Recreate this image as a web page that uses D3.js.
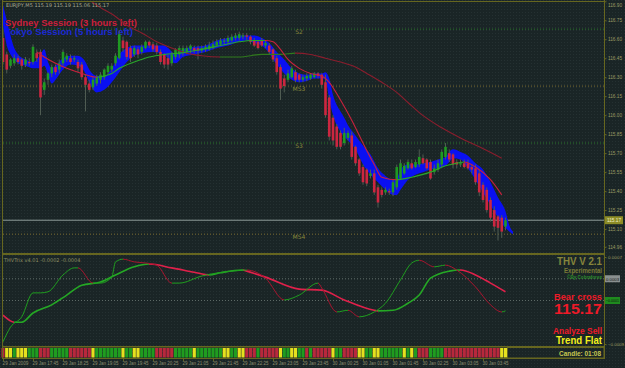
<!DOCTYPE html>
<html>
<head>
<meta charset="utf-8">
<title>EURJPY M5 - THV</title>
<style>
  body { margin: 0; background: #1a2526; }
  svg { display: block; }
</style>
</head>
<body>
<div id="chart"></div>
<script src="https://cdn.jsdelivr.net/npm/d3@7/dist/d3.min.js"></script>
<script>
// ---- data (EURJPY M5, 29-30 Jan 2009) ----
var barOpen = [
  116.61,116.48,116.39,116.41,116.45,116.44,116.40,116.42,116.42,116.49,
  116.50,116.20,116.28,116.33,116.38,116.36,116.41,116.44,116.45,116.44,
  116.42,116.40,116.30,116.25,116.22,116.25,116.28,116.30,116.34,116.36,
  116.41,116.45,116.59,116.58,116.53,116.48,116.52,116.50,116.53,116.58,
  116.56,116.55,116.50,116.48,116.45,116.41,116.46,116.48,116.49,116.50,
  116.52,116.53,116.53,116.51,116.52,116.52,116.53,116.55,116.56,116.58,
  116.58,116.59,116.61,116.61,116.62,116.63,116.62,116.59,116.58,116.59,
  116.55,116.55,116.52,116.45,116.38,116.29,116.28,116.30,116.34,116.32,
  116.28,116.29,116.29,116.30,116.33,116.32,116.26,116.14,115.98,115.91,
  115.86,115.78,115.82,115.84,115.75,115.65,115.59,115.57,115.52,115.54,
  115.43,115.41,115.39,115.40,115.39,115.43,115.50,115.54,115.58,115.62,
  115.59,115.61,115.66,115.65,115.63,115.55,115.57,115.61,115.67,115.70,
  115.69,115.63,115.61,115.62,115.62,115.59,115.58,115.54,115.45,115.41,
  115.33,115.25,115.20,115.19,115.12
];
var barClose = [
  116.42,116.36,116.44,116.45,116.42,116.39,116.44,116.41,116.54,116.45,
  116.14,116.26,116.33,116.38,116.34,116.41,116.50,116.47,116.42,116.45,
  116.37,116.30,116.24,116.20,116.28,116.30,116.32,116.36,116.39,116.39,
  116.47,116.64,116.53,116.46,116.45,116.53,116.48,116.54,116.58,116.55,
  116.52,116.50,116.42,116.40,116.40,116.48,116.52,116.53,116.53,116.53,
  116.55,116.51,116.51,116.53,116.54,116.55,116.56,116.58,116.59,116.59,
  116.61,116.62,116.63,116.64,116.63,116.62,116.58,116.55,116.53,116.55,
  116.57,116.50,116.44,116.34,116.21,116.23,116.33,116.37,116.28,116.28,
  116.30,116.31,116.32,116.33,116.31,116.24,116.00,115.83,115.80,115.75,
  115.75,115.86,115.86,115.67,115.62,115.54,115.47,115.46,115.54,115.39,
  115.31,115.37,115.41,115.39,115.47,115.59,115.62,115.60,115.63,115.58,
  115.63,115.67,115.62,115.58,115.50,115.58,115.62,115.71,115.75,115.65,
  115.61,115.61,115.62,115.59,115.58,115.57,115.47,115.39,115.33,115.25,
  115.19,115.12,115.11,115.08,115.17
];
var barHigh = [
  116.67,116.50,116.45,116.48,116.47,116.45,116.46,116.45,116.56,116.52,
  116.52,116.29,116.34,116.40,116.40,116.44,116.52,116.49,116.48,116.47,
  116.44,116.42,116.32,116.28,116.30,116.32,116.34,116.37,116.41,116.41,
  116.49,116.67,116.62,116.59,116.55,116.55,116.54,116.56,116.59,116.59,
  116.58,116.57,116.52,116.49,116.48,116.50,116.53,116.55,116.55,116.55,
  116.56,116.55,116.55,116.55,116.56,116.58,116.59,116.60,116.61,116.61,
  116.63,116.64,116.65,116.66,116.65,116.65,116.63,116.61,116.59,116.61,
  116.59,116.57,116.53,116.47,116.40,116.32,116.36,116.39,116.36,116.33,
  116.32,116.33,116.33,116.34,116.34,116.33,116.32,116.16,116.00,115.93,
  115.88,115.90,115.88,115.87,115.76,115.66,115.61,115.58,115.57,115.57,
  115.45,115.43,115.43,115.42,115.49,115.61,115.65,115.62,115.65,115.65,
  115.65,115.73,115.69,115.66,115.65,115.61,115.65,115.73,115.78,115.73,
  115.70,115.65,115.65,115.65,115.65,115.61,115.61,115.57,115.47,115.43,
  115.35,115.28,115.21,115.21,115.19
];
var barLow = [
  116.40,116.33,116.37,116.39,116.40,116.36,116.38,116.39,116.40,116.42,
  116.00,116.16,116.24,116.30,116.32,116.33,116.39,116.42,116.40,116.42,
  116.34,116.28,116.03,116.18,116.20,116.23,116.25,116.28,116.32,116.34,
  116.39,116.44,116.50,116.44,116.42,116.46,116.45,116.48,116.52,116.53,
  116.50,116.48,116.40,116.37,116.36,116.39,116.44,116.45,116.47,116.48,
  116.49,116.49,116.44,116.49,116.50,116.51,116.52,116.54,116.55,116.56,
  116.56,116.58,116.59,116.59,116.60,116.59,116.56,116.54,116.52,116.54,
  116.53,116.48,116.42,116.32,116.12,116.18,116.26,116.29,116.26,116.26,
  116.26,116.27,116.28,116.29,116.29,116.21,115.98,115.80,115.76,115.73,
  115.73,115.76,115.80,115.65,115.60,115.52,115.45,115.44,115.50,115.37,
  115.27,115.35,115.37,115.37,115.36,115.41,115.49,115.53,115.57,115.57,
  115.58,115.59,115.61,115.57,115.49,115.53,115.55,115.59,115.65,115.63,
  115.58,115.58,115.59,115.58,115.57,115.54,115.45,115.36,115.31,115.23,
  115.16,115.08,115.01,115.03,115.09
];

// blue ribbon: bar index, upper and lower edge
var ribbonBar = [0,1,2,3,4,6,8,10,11,12,13,14,16,18,20,22,23,25,27,29,31,33,35,37,40,43,44,46,48,51,54,57,60,63,65,67,69,71,73,75,77,79,81,83,85,86,87,88,89,90,91,92,94,96,98,100,102,104,105,106,108,110,112,114,116,118,119,120,122,124,126,128,130,132,134,135,136];
var ribbonTop = [116.87,116.75,116.63,116.53,116.48,116.44,116.42,116.48,116.52,116.42,116.37,116.39,116.45,116.47,116.47,116.42,116.36,116.31,116.31,116.37,116.48,116.53,116.55,116.55,116.55,116.55,116.53,116.48,116.52,116.54,116.55,116.59,116.61,116.63,116.63,116.63,116.61,116.57,116.50,116.44,116.37,116.33,116.32,116.33,116.33,116.34,116.29,116.16,116.08,116.03,115.98,115.92,115.84,115.76,115.69,115.58,115.52,115.49,115.50,115.57,115.61,115.61,115.62,115.63,115.65,115.67,115.71,115.73,115.71,115.68,115.62,115.57,115.47,115.35,115.24,115.13,115.08];
var ribbonBottom = [116.71,116.55,116.48,116.44,116.41,116.39,116.37,116.37,116.39,116.32,116.25,116.28,116.36,116.40,116.39,116.33,116.26,116.18,116.20,116.26,116.34,116.42,116.47,116.49,116.50,116.48,116.45,116.41,116.46,116.48,116.50,116.53,116.55,116.58,116.59,116.57,116.55,116.49,116.40,116.33,116.28,116.26,116.27,116.29,116.29,116.28,116.12,116.00,115.92,115.87,115.83,115.80,115.73,115.61,115.53,115.47,115.41,115.37,115.37,115.41,115.49,115.53,115.55,115.57,115.58,115.60,115.63,115.66,115.65,115.58,115.49,115.39,115.29,115.19,115.11,115.08,115.06];

// moving averages (bar index, value)
var slowMaBar = [23,26,30,33,37,41,45,49,53,58,63,69,74,78,82,86,90,94,97,101,105,108,111,117,122,127,133];
var slowMaVal = [116.91,116.85,116.78,116.71,116.65,116.58,116.53,116.49,116.47,116.46,116.46,116.48,116.48,116.49,116.48,116.45,116.42,116.38,116.33,116.26,116.18,116.10,116.02,115.90,115.82,115.75,115.66];
var midMaBar = [9,11,14,17,21,25,27,29,31,35,39,43,47,53,58,63,67,70,72,74,76,79,82,85,87,90,93,96,99,101,105,109,114,118,121,123,126,130,133];
var midMaVal = [116.50,116.46,116.41,116.37,116.33,116.30,116.31,116.33,116.37,116.42,116.46,116.48,116.49,116.52,116.55,116.58,116.59,116.59,116.58,116.52,116.44,116.37,116.33,116.31,116.26,116.12,115.96,115.78,115.61,115.51,115.49,115.51,115.55,115.60,115.62,115.63,115.59,115.49,115.37];

// pivot levels
var levelNames = ["S2", "MS3", "S3", "MS4"];
var levelPrices = [116.68, 116.23, 115.78, 115.06];

var priceTicks = [116.90,116.75,116.60,116.45,116.30,116.15,116.00,115.85,115.70,115.55,115.40,115.25,115.10,114.96];
var lastPrice = 115.17;

// THVTrix oscillator (bar index, value)
var fastBar = [0,2,5,8,10,12,16,19,20,24,26,29,30,32,35,38,41,45,47,53,61,65,70,75,79,84,85,89,92,95,99,102,106,109,111,115,118,121,126,130,133,134];
var fastVal = [-0.00086,-0.00059,-0.00040,0.00004,0.00004,0.00006,0.00037,0.00050,0.00050,0.00022,0.00022,0.00033,0.00061,0.00066,0.00061,0.00059,0.00055,0.00022,0.00022,0.00035,0.00044,0.00046,0.00031,-0.00009,0.00000,0.00022,0.00013,-0.00031,-0.00028,-0.00040,-0.00031,-0.00015,0.00028,0.00059,0.00064,0.00052,0.00055,0.00046,0.00015,-0.00018,-0.00031,-0.00029];
var slowBar = [0,3,5,8,13,17,21,26,30,35,39,45,51,55,58,64,65,70,79,85,91,99,100,104,108,111,114,119,122,126,130,134];
var slowVal = [-0.00037,-0.00050,-0.00050,-0.00033,-0.00018,0.00000,0.00018,0.00024,0.00037,0.00052,0.00057,0.00050,0.00042,0.00037,0.00041,0.00046,0.00044,0.00033,0.00011,0.00009,-0.00009,-0.00028,-0.00029,-0.00028,-0.00015,0.00000,0.00031,0.00044,0.00046,0.00037,0.00022,0.00006];
var oscTicks = [0.0007, -0.0009];
var oscLevels = [0.0003, -0.0001];

// trend strip: g = up, r = down, y = flat
var trendStrip = ("r"+"yy"+"g"+"yyy"+"ggg"+"rrr"+"ggggg"+"rrrrrr"+"y"+"ggggggg"+"y"+"gg"+"yy"+"gggg"+"rrrrr"+"ggggg"+"y"+
  "ggggggg"+"yy"+"gg"+"yy"+"rrr"+"g"+"rrrrr"+"y"+"gg"+"yy"+"gg"+"r"+"g"+"rrrrr"+"y"+"gg"+"rrrr"+"yy"+"gg"+"yy"+
  "gggggg"+"y"+"g"+"y"+"g"+"rrr"+"gggg"+"rrrrrrrrrrrrrrr"+"yy").split("");

var timeBars = [0,8,16,24,32,40,48,56,64,72,80,88,96,104,112,120,128];
var timeLabels = ["29 Jan 2009","29 Jan 17:45","29 Jan 18:25","29 Jan 19:05","29 Jan 19:45","29 Jan 20:25",
  "29 Jan 21:05","29 Jan 21:45","29 Jan 22:25","29 Jan 23:05","29 Jan 23:45","30 Jan 00:25","30 Jan 01:05",
  "30 Jan 01:45","30 Jan 02:25","30 Jan 03:05","30 Jan 03:45"];

// ---- drawing ----
var W = 625, H = 368;
var olive = "#66661f", axisText = "#9a9a62";
var svg = d3.select("#chart").append("svg").attr("width", W).attr("height", H);
var defs = svg.append("defs");

var pat = defs.append("pattern").attr("id", "dots").attr("width", 3).attr("height", 3)
  .attr("patternUnits", "userSpaceOnUse");
pat.append("rect").attr("width", 3).attr("height", 3).attr("fill", "#1a2526");
pat.append("rect").attr("width", 1).attr("height", 1).attr("fill", "#253132");
svg.append("rect").attr("width", W).attr("height", H).attr("fill", "url(#dots)");

var x = d3.scaleLinear().domain([0, 134]).range([3, 505.5]);
var y = d3.scaleLinear().domain([114.93, 116.91]).range([250.6, 0]);
var yo = d3.scaleLinear().domain([-0.0009, 0.0007]).range([344, 257]);

defs.append("clipPath").attr("id", "mainClip").append("rect")
  .attr("x", 3).attr("y", 1.5).attr("width", 601).attr("height", 251);
defs.append("clipPath").attr("id", "oscClip").append("rect")
  .attr("x", 3).attr("y", 255).attr("width", 601).attr("height", 91);

function slopeGradient(id, bars, vals, up, down) {
  var x0 = x(bars[0]), span = x(bars[bars.length - 1]) - x0;
  var g = defs.append("linearGradient").attr("id", id).attr("gradientUnits", "userSpaceOnUse")
    .attr("x1", x0).attr("x2", x0 + span).attr("y1", 0).attr("y2", 0);
  for (var k = 0; k < bars.length - 1; k++) {
    var c = vals[k + 1] >= vals[k] ? up : down;
    g.append("stop").attr("offset", (x(bars[k]) - x0) / span).attr("stop-color", c);
    g.append("stop").attr("offset", (x(bars[k + 1]) - x0) / span).attr("stop-color", c);
  }
}

var main = svg.append("g").attr("clip-path", "url(#mainClip)");

// pivot levels
var levelStyle = { "S2": "#2c7a2c", "MS3": "#7a6a30", "S3": "#2c7a2c", "MS4": "#7a6a30" };
levelPrices.forEach(function(p, i) {
  main.append("line").attr("x1", 3).attr("x2", 604).attr("y1", y(p)).attr("y2", y(p))
    .attr("stroke", levelStyle[levelNames[i]]).attr("stroke-width", 1).attr("stroke-dasharray", "1,2");
  main.append("text").attr("x", 299).attr("y", y(p) + 5).attr("text-anchor", "middle")
    .attr("font-family", "DejaVu Sans").attr("font-size", 6).attr("fill", "#86863a").text(levelNames[i]);
});

// current price line
main.append("line").attr("x1", 3).attr("x2", 604).attr("y1", y(lastPrice)).attr("y2", y(lastPrice))
  .attr("stroke", "#8d9a98").attr("stroke-width", 1);

// session labels
main.append("text").attr("x", 5).attr("y", 35).attr("font-family", "Liberation Sans").attr("font-weight", "bold")
  .attr("font-size", 9).attr("fill", "#1c2ad4").attr("textLength", 128).attr("lengthAdjust", "spacingAndGlyphs")
  .text("Tokyo Session (5 hours left)");

// blue ribbon
var ribbon = ribbonBar.map(function(b, i) { return { b: b, t: ribbonTop[i], l: ribbonBottom[i] }; });
main.append("path").datum(ribbon)
  .attr("d", d3.area().x(function(d) { return x(d.b); })
    .y0(function(d) { return y(d.l); }).y1(function(d) { return y(d.t); }).curve(d3.curveMonotoneX))
  .attr("fill", "#0a10f2");

main.append("text").attr("x", 5).attr("y", 25.5).attr("font-family", "Liberation Sans").attr("font-weight", "bold")
  .attr("font-size", 9).attr("fill", "#cc1f3c").attr("textLength", 132).attr("lengthAdjust", "spacingAndGlyphs")
  .text("Sydney Session (3 hours left)");

// candles
var bars = d3.range(barOpen.length);
main.selectAll(".wick").data(bars).enter().append("line")
  .attr("x1", function(i) { return x(i); }).attr("x2", function(i) { return x(i); })
  .attr("y1", function(i) { return y(barHigh[i]); }).attr("y2", function(i) { return y(barLow[i]); })
  .attr("stroke", "#4f5c52").attr("stroke-width", 1);
main.selectAll(".body").data(bars).enter().append("rect")
  .attr("x", function(i) { return x(i) - 1.3; }).attr("width", 2.6)
  .attr("y", function(i) { return y(Math.max(barOpen[i], barClose[i])); })
  .attr("height", function(i) { return Math.max(1.2, Math.abs(y(barOpen[i]) - y(barClose[i]))); })
  .attr("fill", function(i) { return barClose[i] >= barOpen[i] ? "#1f9a22" : "#cc2640"; });

// moving averages
slopeGradient("gSlow", slowMaBar, slowMaVal, "#2f7a1c", "#8a1c2c");
slopeGradient("gMid", midMaBar, midMaVal, "#28a828", "#c8203c");
var maLine = d3.line().curve(d3.curveMonotoneX);
main.append("path")
  .attr("d", maLine(slowMaBar.map(function(b, i) { return [x(b), y(slowMaVal[i])]; })))
  .attr("fill", "none").attr("stroke", "url(#gSlow)").attr("stroke-width", 1.1);
main.append("path")
  .attr("d", maLine(midMaBar.map(function(b, i) { return [x(b), y(midMaVal[i])]; })))
  .attr("fill", "none").attr("stroke", "url(#gMid)").attr("stroke-width", 1.1);

main.append("text").attr("x", 6).attr("y", 6.5).attr("font-family", "DejaVu Sans").attr("font-size", 5)
  .attr("fill", "#a8a890").text("EURJPY,M5  115.19  115.19  115.06  115.17");

// oscillator panel
var osc = svg.append("g").attr("clip-path", "url(#oscClip)");
oscLevels.forEach(function(v) {
  osc.append("line").attr("x1", 3).attr("x2", 604).attr("y1", yo(v)).attr("y2", yo(v))
    .attr("stroke", "#5d6a66").attr("stroke-dasharray", "1,2");
});
slopeGradient("gFast", fastBar, fastVal, "#1e9e1e", "#a8142e");
slopeGradient("gSig", slowBar, slowVal, "#24a824", "#e0204a");
osc.append("path")
  .attr("d", maLine(slowBar.map(function(b, i) { return [x(b), yo(slowVal[i])]; })))
  .attr("fill", "none").attr("stroke", "url(#gSig)").attr("stroke-width", 1.6);
osc.append("path")
  .attr("d", maLine(fastBar.map(function(b, i) { return [x(b), yo(fastVal[i])]; })))
  .attr("fill", "none").attr("stroke", "url(#gFast)").attr("stroke-width", 1);
osc.append("text").attr("x", 4).attr("y", 262).attr("font-family", "DejaVu Sans").attr("font-size", 5)
  .attr("fill", "#8f8f62").text("THVTrix v4.01 -0.0002 -0.0004");

// right side info texts
var info = [
  { t: "THV V 2.1", y: 265, s: 10, c: "#86863c", w: 45 },
  { t: "Experimental", y: 272.5, s: 6.5, c: "#7a7a36", w: 38 },
  { t: "\u00a9By Cobraforex", y: 278.5, s: 4.5, c: "#2c8a2c", w: 35 },
  { t: "Bear cross", y: 299.5, s: 9.5, c: "#ee1a28", w: 48 },
  { t: "115.17", y: 313.5, s: 14, c: "#ee1a28", w: 48 },
  { t: "Analyze Sell", y: 333.5, s: 9, c: "#ee1a28", w: 49 },
  { t: "Trend Flat", y: 344, s: 10, c: "#f2f01c", w: 46 }
];
info.forEach(function(d) {
  svg.append("text").attr("x", 602).attr("y", d.y).attr("text-anchor", "end")
    .attr("font-family", "Liberation Sans").attr("font-weight", "bold").attr("font-size", d.s)
    .attr("fill", d.c).attr("textLength", d.w).attr("lengthAdjust", "spacingAndGlyphs").text(d.t);
});

// trend strip
var stripColor = { g: "#1f9c1f", r: "#b8283c", y: "#e6e01e" };
svg.selectAll(".cell").data(trendStrip).enter().append("rect")
  .attr("x", function(d, i) { return x(i) - 1.6; }).attr("width", 3.2)
  .attr("y", 348).attr("height", 9.5)
  .attr("fill", function(d) { return stripColor[d]; });
svg.append("rect").attr("x", 507.5).attr("y", 347.5).attr("width", 96.5).attr("height", 10.5)
  .attr("fill", "none").attr("stroke", olive);
svg.append("text").attr("x", 601).attr("y", 355.5).attr("text-anchor", "end")
  .attr("font-family", "Liberation Sans").attr("font-weight", "bold").attr("font-size", 7)
  .attr("fill", "#c8c850").attr("textLength", 42).attr("lengthAdjust", "spacingAndGlyphs").text("Candle:  01:08");

// frames
svg.append("line").attr("x1", 2.5).attr("x2", 2.5).attr("y1", 0).attr("y2", 358).attr("stroke", olive);
svg.append("line").attr("x1", 604.5).attr("x2", 604.5).attr("y1", 0).attr("y2", 358).attr("stroke", olive);
svg.append("line").attr("x1", 2).attr("x2", 605).attr("y1", 1.5).attr("y2", 1.5).attr("stroke", olive);
svg.append("line").attr("x1", 2).attr("x2", 605).attr("y1", 254).attr("y2", 254).attr("stroke", olive).attr("stroke-width", 2);
svg.append("line").attr("x1", 2).attr("x2", 605).attr("y1", 346.8).attr("y2", 346.8).attr("stroke", olive).attr("stroke-width", 1.5);
svg.append("line").attr("x1", 2).attr("x2", 605).attr("y1", 358.5).attr("y2", 358.5).attr("stroke", olive);

// price axis
var pAxis = svg.append("g").attr("transform", "translate(604.5,0)")
  .call(d3.axisRight(y).tickValues(priceTicks).tickFormat(d3.format(".2f")).tickSize(2).tickPadding(1.5));
pAxis.select(".domain").remove();
pAxis.selectAll("line").attr("stroke", olive);
pAxis.selectAll("text").attr("fill", axisText).attr("font-family", "Liberation Sans").attr("font-size", 5)
  .attr("textLength", 14).attr("lengthAdjust", "spacingAndGlyphs")
  .attr("dy", function(d, i) { return i === 0 ? "1em" : "0.32em"; });

svg.append("rect").attr("x", 605).attr("y", y(lastPrice) - 4).attr("width", 18).attr("height", 8).attr("fill", "#8c8c26");
svg.append("text").attr("x", 607).attr("y", y(lastPrice) + 2).attr("font-family", "Liberation Sans").attr("font-size", 5)
  .attr("fill", "#f0f0c8").attr("textLength", 14).attr("lengthAdjust", "spacingAndGlyphs")
  .text(d3.format(".2f")(lastPrice));

// oscillator axis
var oAxis = svg.append("g").attr("transform", "translate(604.5,0)")
  .call(d3.axisRight(yo).tickValues(oscTicks).tickFormat(d3.format(".4f")).tickSize(2).tickPadding(1.5));
oAxis.select(".domain").remove();
oAxis.selectAll("line").attr("stroke", olive);
oAxis.selectAll("text").attr("fill", axisText).attr("font-family", "Liberation Sans").attr("font-size", 4.3)
  .attr("textLength", function(d) { return d < 0 ? 16 : 14; }).attr("lengthAdjust", "spacingAndGlyphs");
var oscBoxColor = ["#8a9090", "#1e8a1e"];
oscLevels.forEach(function(v, i) {
  svg.append("rect").attr("x", 605).attr("y", yo(v) - 3.5).attr("width", 15).attr("height", 7).attr("fill", oscBoxColor[i]);
  svg.append("text").attr("x", 606).attr("y", yo(v) + 1.8).attr("font-family", "Liberation Sans").attr("font-size", 4.3)
    .attr("fill", "#101010").attr("textLength", 13).attr("lengthAdjust", "spacingAndGlyphs")
    .text(d3.format(".4f")(v));
});

// time axis
var tAxis = svg.append("g").attr("transform", "translate(0,359)")
  .call(d3.axisBottom(x).tickValues(timeBars).tickSize(2).tickPadding(0)
    .tickFormat(function(d, i) { return timeLabels[i]; }));
tAxis.select(".domain").remove();
tAxis.selectAll("line").attr("stroke", olive);
tAxis.selectAll("text").attr("fill", "#8e8e70").attr("font-family", "Liberation Sans").attr("font-size", 5)
  .attr("text-anchor", "start").attr("dx", -1)
  .attr("textLength", 26).attr("lengthAdjust", "spacingAndGlyphs");
</script>
</body>
</html>
